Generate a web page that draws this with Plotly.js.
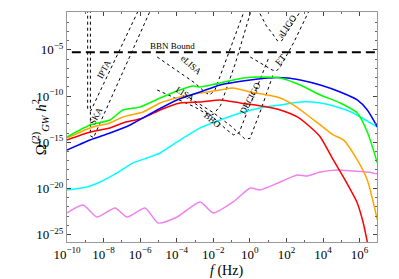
<!DOCTYPE html>
<html><head><meta charset="utf-8">
<script src="https://cdn.plot.ly/plotly-3.0.1.min.js"></script>
<style>html,body{margin:0;padding:0;background:#fff}#chart{width:399px;height:279px}</style>
</head><body><div id="chart"></div>
<script>
// ---- data (log10 of frequency in Hz, log10 of Omega h^2) ----
const greenLogF  = [-10,-8.74,-7.65,-6.94,-6.00,-4.91,-3.82,-3.10,-2.72,-0.37,0.56,1.66,2.75,3.85,4.94,5.87,6.42,6.97];
const greenLogO  = [-14.43,-13.13,-12.59,-11.51,-11.18,-10.21,-9.34,-8.91,-9.02,-8.04,-7.93,-8.04,-8.80,-9.88,-10.75,-11.83,-13.89,-17.24];
const orangeLogF = [-10,-8.74,-7.65,-6.94,-5.84,-4.91,-3.82,-2.72,-1.63,-0.91,0.02,0.95,1.66,2.37,3.14,3.85,4.56,5.11,5.87,6.42,6.97];
const orangeLogO = [-14.54,-13.45,-12.91,-12.26,-11.72,-10.75,-10.10,-9.67,-9.34,-9.13,-9.56,-9.88,-10.21,-10.96,-12.05,-13.13,-14.21,-14.75,-16.92,-19.08,-23.41];
const redLogF    = [-10,-8.74,-7.65,-6.94,-5.84,-4.91,-3.82,-2.72,-1.63,-0.53,0.95,1.66,2.59,3.30,3.85,4.56,5.11,5.87,6.20,6.42,6.6];
const redLogO    = [-14.75,-13.89,-13.45,-12.91,-12.37,-11.51,-10.75,-10.64,-10.42,-10.75,-11.18,-11.51,-12.26,-13.35,-14.43,-16.92,-18.76,-21.57,-23.74,-25.79,-27.5];
const blueLogF   = [-10,-8.74,-7.65,-6.55,-5.07,-3.98,-2.72,-1.63,0.02,0.95,2.05,2.75,3.85,4.94,5.87,6.42,6.97];
const blueLogO   = [-15.84,-14.75,-14.00,-13.13,-11.51,-10.42,-9.56,-8.80,-8.26,-8.04,-8.04,-8.26,-8.80,-9.56,-10.42,-11.51,-13.35];
const cyanLogF   = [-10,-8.91,-8.19,-7.26,-6.39,-5.62,-4.91,-3.98,-2.72,-1.63,-0.53,0.56,1.66,2.75,3.85,4.78,5.65,6.97];
const cyanLogO   = [-20.16,-19.84,-19.30,-18.32,-17.24,-16.70,-16.16,-14.97,-13.45,-12.59,-11.83,-11.29,-10.96,-10.64,-10.75,-11.18,-11.83,-13.35];
const violetLogF = [-10,-9.12,-8.36,-7.37,-6.72,-5.73,-5.02,-3.98,-2.72,-2.01,-0.91,0.02,0.56,1.66,2.59,3.14,3.85,4.78,5.65,6.42,6.97];
const violetLogO = [-22.65,-21.79,-23.09,-22.11,-23.09,-22.11,-23.74,-23.09,-21.46,-22.65,-21.46,-19.95,-20.16,-19.30,-18.54,-18.65,-18.22,-18.00,-18.11,-18.22,-18.43];

// sensitivity curves
const iptaLogF   = [-8.87,-8.87,-8.70,-5.97];
const iptaLogO   = [0,-11.4,-11.6,-0.2];
const skaLogF    = [-8.72,-8.72,-8.55,-5.39];
const skaLogO    = [0,-14.3,-14.5,-0.5];
const elisaLogF  = [-5.07,-4,-3,-2.5,-2.2,-1.9,-1.0,-0.2];
const elisaLogO  = [-5.77,-7.25,-8.6,-9.5,-9.9,-9.3,-4.5,-0.2];
const lisaLogF   = [-5.07,-4,-3,-2.4,-2.0,-1.6,-0.8,0.1];
const lisaLogO   = [-9.34,-10.3,-11.2,-11.9,-12.0,-11.0,-6.5,-0.5];
const bboLogF    = [-3.0,-2.0,-1.3,-0.9,-0.6,0.2,1.0];
const bboLogO    = [-10.8,-12.3,-13.6,-14.2,-14.0,-10.0,-6.0];
const decigoLogF = [-3.3,-2.0,-1.0,-0.3,0.0,0.6,1.3];
const decigoLogO = [-10.2,-11.8,-13.3,-14.6,-14.6,-11.5,-7.5];
const etLogF     = [0.02,0.8,1.22,1.44,1.66,2.4,3.3];
const etLogO     = [-5.77,-6.7,-7.18,-7.3,-6.85,-4.2,-0.5];
const aligoLogF  = [0.40,0.9,1.22,1.5,1.75,2.2,2.8];
const aligoLogO  = [-0.5,-2.4,-3.2,-4.0,-4.0,-2.6,-0.7];
const bbnLogF    = [-10.5,7.5];
const bbnLogO    = [-5.25,-5.25];

const xTickVals = [1e-10,1e-8,1e-6,1e-4,1e-2,1,1e2,1e4,1e6];
const xTickText = ['10<sup>−10</sup>','10<sup>−8</sup>','10<sup>−6</sup>','10<sup>−4</sup>','10<sup>−2</sup>','10<sup>0</sup>','10<sup>2</sup>','10<sup>4</sup>','10<sup>6</sup>'];
const yTickVals = [1e-25,1e-20,1e-15,1e-10,1e-5];
const yTickText = ['10<sup>−25</sup>','10<sup>−20</sup>','10<sup>−15</sup>','10<sup>−10</sup>','10<sup>−5</sup>'];

const labels = [
  {text:'BBN Bound', f:-4.25, o:-4.6, a:0},
  {text:'IPTA', f:-7.97, o:-7.07, a:-62},
  {text:'SKA', f:-8.41, o:-12.16, a:-62},
  {text:'eLISA', f:-3.21, o:-6.64, a:42},
  {text:'LISA', f:-3.54, o:-9.77, a:32},
  {text:'BBO', f:-2.06, o:-12.59, a:40},
  {text:'DECIGO', f:0.02, o:-10.21, a:-62},
  {text:'ET', f:1.66, o:-6.09, a:-50},
  {text:'aLIGO', f:2.04, o:-2.42, a:-55}
];

const pw = v => v.map(e => Math.pow(10, e));
const FONT = 'Liberation Serif, Times New Roman, serif';

function solid(fx, ox, color){
  return {x:pw(fx), y:pw(ox), mode:'lines', type:'scatter', line:{color:color, width:1.5, shape:'spline', smoothing:0.6}, hoverinfo:'skip'};
}
function dashed(fx, ox, w, dash){
  return {x:pw(fx), y:pw(ox), mode:'lines', type:'scatter', line:{color:'#000', width:w, dash:dash}, hoverinfo:'skip'};
}

const traces = [
  dashed(bbnLogF, bbnLogO, 2, '9px,5px'),
  dashed(iptaLogF, iptaLogO, 1, '3px,3px'),
  dashed(skaLogF, skaLogO, 1, '3px,3px'),
  dashed(elisaLogF, elisaLogO, 1, '3px,3px'),
  dashed(lisaLogF, lisaLogO, 1, '3px,3px'),
  dashed(bboLogF, bboLogO, 1, '3px,3px'),
  dashed(decigoLogF, decigoLogO, 1, '3px,3px'),
  dashed(etLogF, etLogO, 1, '3px,3px'),
  dashed(aligoLogF, aligoLogO, 1, '3px,3px'),
  solid(violetLogF, violetLogO, '#ee82ee'),
  solid(cyanLogF, cyanLogO, '#00ffff'),
  solid(redLogF, redLogO, '#ff0000'),
  solid(orangeLogF, orangeLogO, '#ffa500'),
  solid(blueLogF, blueLogO, '#0000ff'),
  solid(greenLogF, greenLogO, '#00ff00')
];

const annotations = labels.map(l => ({
  x: l.f, y: l.o, xref:'x', yref:'y', text:l.text, showarrow:false, textangle:l.a,
  font:{family:FONT, size:9, color:'#000'}
}));
annotations.push({xref:'paper', yref:'paper', x:-0.125, y:0.5, text:'Ω<sup>(2)</sup><sub><i>GW</i></sub> <i>h</i><sup>2</sup>', textangle:-90, showarrow:false, font:{family:FONT, size:15, color:'#000'}});
annotations.push({xref:'paper', yref:'paper', x:0.515, y:-0.124, yanchor:'middle', text:'<i>f</i> (Hz)', showarrow:false, font:{family:FONT, size:14, color:'#000'}});

const axisCommon = {
  type:'log', showgrid:false, zeroline:false, showline:true, linecolor:'#999', linewidth:1,
  mirror:'ticks', ticks:'inside', ticklen:4, tickcolor:'#444', tickfont:{family:FONT, size:13, color:'#000'}
};

const layout = {
  width:399, height:279, margin:{l:67, r:22, t:12, b:37},
  paper_bgcolor:'#fff', plot_bgcolor:'#fff', showlegend:false,
  xaxis: Object.assign({}, axisCommon, {range:[-10, 6.95], tickvals:xTickVals, ticktext:xTickText,
     minor:{ticks:'inside', ticklen:2, tickcolor:'#666', dtick:1}}),
  yaxis: Object.assign({}, axisCommon, {range:[-25.8, -0.9], tickvals:yTickVals, ticktext:yTickText,
     minor:{ticks:'inside', ticklen:2, tickcolor:'#666', dtick:1}}),
  annotations: annotations
};

Plotly.newPlot('chart', traces, layout, {staticPlot:true, displayModeBar:false});
</script></body></html>
